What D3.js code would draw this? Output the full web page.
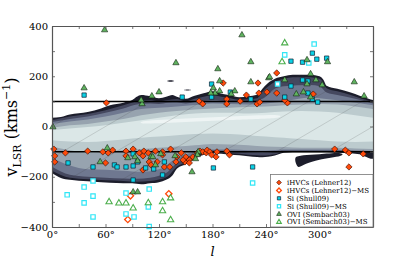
<!DOCTYPE html>
<meta charset="utf-8">
<script src="https://d3js.org/d3.v7.min.js"></script>
<style>
body { margin: 0; background: #fff; }
text { font-family: "DejaVu Serif", serif; }
</style>
<div id="chart"></div>
<script>
// HI emission bands in the (l, v_LSR) plane, outermost first: [l, v_low, v_high]
var band0 = [[0,-185,35],[10,-205,38],[20,-212,48],[40,-218,58],[55,-222,72],[65,-224,85],[80,-226,95],[90,-226,105],[95,-228,118],[100,-230,125],[110,-226,120],[120,-222,112],[128,-212,118],[135,-195,125],[140,-168,118],[150,-150,110],[160,-128,122],[170,-112,132],[180,-106,140],[190,-108,130],[200,-112,124],[210,-114,116],[220,-118,120],[230,-121,126],[236,-122,150],[242,-120,172],[250,-115,190],[260,-104,200],[270,-102,206],[290,-102,206],[300,-102,200],[304,-102,188],[308,-102,162],[320,-104,150],[335,-106,135],[345,-110,122],[355,-114,110],[360,-116,105]];
var band1 = [[0,-176,25],[20,-204,40],[40,-210,50],[60,-214,65],[80,-217,85],[95,-220,100],[110,-217,105],[120,-211,100],[130,-198,105],[140,-160,108],[150,-142,100],[160,-120,110],[170,-107,118],[180,-102,125],[190,-104,118],[200,-106,112],[210,-108,106],[220,-112,108],[230,-114,112],[236,-115,138],[242,-114,158],[250,-110,178],[260,-100,190],[270,-99,196],[290,-99,196],[300,-99,190],[304,-99,176],[308,-99,152],[320,-100,140],[335,-102,125],[345,-105,113],[360,-110,98]];
var band2 = [[0,-160,18],[20,-192,30],[40,-200,40],[60,-204,55],[80,-207,72],[95,-208,88],[110,-204,92],[120,-196,90],[130,-180,95],[140,-145,96],[150,-128,92],[160,-110,98],[170,-100,102],[180,-96,104],[200,-98,100],[220,-102,98],[236,-104,110],[250,-100,150],[260,-96,160],[290,-96,165],[300,-96,160],[308,-96,135],[320,-96,125],[340,-98,110],[360,-102,92]];
var band3 = [[0,-125,10],[20,-155,20],[40,-170,28],[60,-172,40],[80,-176,55],[100,-180,70],[120,-170,75],[140,-125,80],[160,-100,86],[180,-92,92],[200,-92,90],[220,-95,88],[240,-96,92],[260,-92,100],[290,-92,115],[310,-92,108],[330,-94,100],[360,-98,85]];
var band4 = [[0,-80,-5],[20,-95,5],[40,-105,10],[60,-100,20],[80,-95,30],[100,-90,45],[120,-85,55],[140,-80,62],[160,-75,68],[180,-70,72],[200,-72,75],[220,-75,78],[240,-80,80],[260,-82,85],[280,-85,88],[300,-85,90],[320,-85,88],[340,-88,80],[360,-90,70]];
var band5 = [[0,-55,-15],[20,-60,-8],[40,-62,-2],[60,-58,5],[80,-52,15],[100,-45,25],[120,-40,35],[140,-35,45],[160,-30,52],[180,-28,55],[200,-30,55],[220,-35,52],[240,-40,55],[260,-45,60],[280,-50,62],[300,-55,60],[320,-60,55],[340,-62,45],[360,-60,35]];

// separate dark HI clumps: [l, v] outlines
var tongue = [[273,-125],[282,-114],[300,-110],[323,-106],[323,-117],[300,-132],[285,-148],[276,-160]];
var edgeClump = [[345,-104],[360,-104],[360,-128],[352,-120]];
var blobA = [[129,181],[133,184],[137,181],[133,178]];
var blobB = [[148,145],[152,147],[156,145],[152,143]];
// bright streak inside the core
var streak = [[105,22],[150,32],[200,40],[250,46],[250,34],[200,26],[150,18],[105,12]];

// faint reference lines (start longitude of each)
var diagStarts = [-120, -60, 0, 60, 120, 180, 240, 300];

// absorbers [l, v_LSR]
var ihvc = [[61,94],[165,101],[169,90],[192,173],[196,109],[196,90],[211,101],[218,125],[231,173],[232,133],[241,137],[230,90],[233,97],[252,213],[252,133],[264,94],[261,105],[293,129],
  [2,-90],[15,-105],[3,-117],[3,-141],[40,-98],[57,-101],[63,-105],[60,-145],[68,-94],[83,-98],[83,-117],[91,-90],[98,-105],[102,-117],[103,-98],[108,-105],[109,-141],[116,-98],[124,-101],[124,-113],[133,-90],[140,-121],[145,-105],[150,-121],[154,-133],[158,-121],[163,-105],[166,-98],[169,-101],[173,-105],[174,-94],[177,-101],[179,-113],[184,-121],[185,-101],[196,-98],[199,-113],
  [102,-173],[111,-153],[118,-141],[126,-161],[132,-161],[139,-141],[149,-141],[154,-145],[147,-133],
  [317,-90],[329,-94],[333,-105],[349,-109],[333,-161]];
var ihvcMS = [[88,-276],[85,-370],[131,-268]];
var si = [[36,125],[146,117],[179,169],[179,117],[200,137],[223,109],[268,260],[292,292],[297,268],[308,272],[281,256],[281,185],[287,181],[268,161],[287,133],[292,109],[261,117],[298,97],
  [18,-145],[46,-161],[70,-153],[73,-161],[83,-161],[91,-157],[91,-109],[96,-141],[105,-165],[91,-213],[114,-169],[124,-193],[126,-141],[181,-165],[225,-161]];
var siMS = [[294,328],[261,285],[288,253],[253,169],[17,-272],[36,-241],[46,-217],[36,-304],[46,-277],[46,-360],[83,-265],[83,-348],[92,-360],[109,-249],[108,-320],[109,-398],[225,-225]];
var ovi = [[36,153],[59,384],[213,364],[139,253],[223,257],[186,229],[243,193],[188,181],[181,153],[183,133],[188,141],[120,137],[112,121],[101,90],[100,105],[205,141],[201,129],[223,177],[178,133],
  [309,257],[286,265],[244,197],[261,185],[290,209],[296,185],[286,169],[303,165],[339,177],[350,121],[274,129],[282,137],[290,117],[1,-2],
  [62,-86],[54,-141],[85,-125],[93,-121],[96,-137],[111,-121],[116,-153],[122,-109],[138,-117],[157,-181],[164,-101],[163,-113],[161,-129],[113,-121],[91,-261],[96,-261]];
var oviMS = [[261,332],[258,257],[64,-300],[75,-305],[83,-305],[91,-325],[108,-304],[124,-300],[124,-336],[133,-285],[133,-372]];

var xTicks = d3.range(0, 361, 30);
var yTicks = d3.range(-400, 401, 100);
var legendLabels = ["iHVCs (Lehner12)", "iHVCs (Lehner12)\u2212MS", "Si (Shull09)", "Si (Shull09)\u2212MS", "OVI (Sembach03)", "OVI (Sembach03)\u2212MS"];

// ---------------------------------------------------------------
var W = 415, H = 260;
var margin = {top: 26, right: 42, bottom: 33, left: 52};

var svg = d3.select("#chart").append("svg")
  .attr("width", W).attr("height", H);

var x = d3.scaleLinear().domain([0, 360]).range([margin.left, W - margin.right]);
var y = d3.scaleLinear().domain([-400, 400]).range([H - margin.bottom, margin.top]);

var defs = svg.append("defs");
defs.append("clipPath").attr("id", "plotclip")
  .append("rect")
    .attr("x", x(0)).attr("y", y(400))
    .attr("width", x(360) - x(0)).attr("height", y(-400) - y(400));

var area = d3.area()
  .x(function(d) { return x(d[0]); })
  .y0(function(d) { return y(d[1]); })
  .y1(function(d) { return y(d[2]); })
  .curve(d3.curveMonotoneX);
var outline = d3.line()
  .x(function(d) { return x(d[0]); })
  .y(function(d) { return y(d[1]); })
  .curve(d3.curveCardinalClosed);

defs.append("clipPath").attr("id", "hiclip")
  .append("path").attr("d", area(band0));

// bone colormap steps, dark edge to bright core
var bandColors = ["#1c1d2b", "#45485f", "#6f7890", "#97a3af", "#bccbce", "#dbe7e7"];
var bg = svg.append("g").attr("clip-path", "url(#plotclip)");
bg.selectAll("path.band")
  .data([band0, band1, band2, band3, band4, band5])
  .enter().append("path")
    .attr("class", "band")
    .attr("d", area)
    .attr("fill", function(d, i) { return bandColors[i]; });

bg.selectAll("path.clump")
  .data([tongue, edgeClump, blobA, blobB])
  .enter().append("path")
    .attr("class", "clump")
    .attr("d", outline)
    .attr("fill", bandColors[0]);

bg.append("path")
  .attr("d", outline(streak))
  .attr("fill", "#eef4f4");

// faint diagonal lines across the emission
bg.append("g").attr("clip-path", "url(#hiclip)")
  .selectAll("line")
  .data(diagStarts)
  .enter().append("line")
    .attr("x1", function(d) { return x(d); })
    .attr("y1", y(-250))
    .attr("x2", function(d) { return x(d + 240); })
    .attr("y2", y(250))
    .attr("stroke", "#444")
    .attr("stroke-opacity", 0.3)
    .attr("stroke-width", 0.6);

// |v| = 100 km/s lines
svg.selectAll("line.cut")
  .data([100, -100])
  .enter().append("line")
    .attr("class", "cut")
    .attr("x1", x(0)).attr("x2", x(360))
    .attr("y1", function(d) { return y(d); })
    .attr("y2", function(d) { return y(d); })
    .attr("stroke", "#000")
    .attr("stroke-width", 1.5);

// marker styles
var cOrange = "#ff4a0a", cCyan = "#0ad2e6", cCyanOpen = "#30e6f6", cGreen = "#5fb35f", cGreenOpen = "#4cae4c";
var series = [
  {data: ihvc,   type: "diamond",  fill: cOrange, stroke: "#3a0d00", sw: 0.6},
  {data: ihvcMS, type: "diamond",  fill: "#fff",  stroke: cOrange,   sw: 1.3},
  {data: si,     type: "square",   fill: cCyan,   stroke: "#102030", sw: 0.7},
  {data: siMS,   type: "square",   fill: "#fff",  stroke: cCyanOpen, sw: 1.2},
  {data: ovi,    type: "triangle", fill: cGreen,  stroke: "#112211", sw: 0.6},
  {data: oviMS,  type: "triangle", fill: "#fff",  stroke: cGreenOpen, sw: 1.1}
];

function symbolPath(type, scale) {
  if (type === "diamond") return d3.symbol().type(d3.symbolSquare).size(20 * scale * scale)();
  if (type === "square") return d3.symbol().type(d3.symbolSquare).size(19 * scale * scale)();
  return d3.symbol().type(d3.symbolTriangle).size(17 * scale * scale)();
}

series.forEach(function(s) {
  svg.append("g")
    .selectAll("path")
    .data(s.data)
    .enter().append("path")
      .attr("d", symbolPath(s.type, 1))
      .attr("transform", function(d) {
        return "translate(" + x(d[0]) + "," + y(d[1]) + ")" + (s.type === "diamond" ? " rotate(45)" : "");
      })
      .attr("fill", s.fill)
      .attr("stroke", s.stroke)
      .attr("stroke-width", s.sw);
});

// axes, ticks pointing inward on all four sides
var tickFont = "10px";
var gx = svg.append("g")
  .attr("transform", "translate(0," + y(-400) + ")")
  .call(d3.axisBottom(x).tickValues(xTicks).tickSizeInner(-3).tickSizeOuter(0).tickPadding(4)
    .tickFormat(function(d) { return (d % 60 === 0 && d < 360) ? d + "\u00b0" : ""; }));
var gxt = svg.append("g")
  .attr("transform", "translate(0," + y(400) + ")")
  .call(d3.axisTop(x).tickValues(xTicks).tickSizeInner(-3).tickSizeOuter(0).tickFormat(""));
var gy = svg.append("g")
  .attr("transform", "translate(" + x(0) + ",0)")
  .call(d3.axisLeft(y).tickValues(yTicks).tickSizeInner(-3).tickSizeOuter(0).tickPadding(4)
    .tickFormat(function(d) { return d % 200 === 0 ? d3.format("d")(d).replace("-", "\u2212") : ""; }));
var gyr = svg.append("g")
  .attr("transform", "translate(" + x(360) + ",0)")
  .call(d3.axisRight(y).tickValues(yTicks).tickSizeInner(-3).tickSizeOuter(0).tickFormat(""));

[gx, gxt, gy, gyr].forEach(function(g) {
  g.select(".domain").attr("stroke", "#555").attr("stroke-width", 1.2);
  g.selectAll(".tick line").attr("stroke", "#555").attr("stroke-width", 0.8);
  g.selectAll(".tick text").attr("fill", "#000")
    .style("font-family", "DejaVu Serif, serif").style("font-size", tickFont);
});

// axis titles
svg.append("text")
  .attr("x", (x(0) + x(360)) / 2)
  .attr("y", H - 4)
  .attr("text-anchor", "middle")
  .style("font-size", "13px")
  .style("font-style", "italic")
  .text("l");

var ylab = svg.append("text")
  .attr("transform", "translate(17,127) rotate(-90)")
  .attr("text-anchor", "middle")
  .style("font-size", "16px");
ylab.append("tspan").text("v");
ylab.append("tspan").attr("dy", 3.5).style("font-size", "11px").text("LSR");
ylab.append("tspan").attr("dy", -3.5).text(" (kms");
ylab.append("tspan").attr("dy", -7).style("font-size", "11px").text("\u22121");
ylab.append("tspan").attr("dy", 7).text(")");

// legend
var lg = svg.append("g");
lg.append("rect")
  .attr("x", 270.5).attr("y", 174.5)
  .attr("width", x(360) - 270.5).attr("height", y(-400) - 174.5)
  .attr("fill", "#fff")
  .attr("stroke", "#777")
  .attr("stroke-width", 0.8);

var rows = lg.selectAll("g.row")
  .data(legendLabels)
  .enter().append("g")
    .attr("class", "row")
    .attr("transform", function(d, i) { return "translate(279," + (182.5 + i * 7.9) + ")"; });
rows.append("path")
  .attr("d", function(d, i) { return symbolPath(series[i].type, 0.75); })
  .attr("transform", function(d, i) { return series[i].type === "diamond" ? "rotate(45)" : null; })
  .attr("fill", function(d, i) { return series[i].fill; })
  .attr("stroke", function(d, i) { return series[i].stroke; })
  .attr("stroke-width", function(d, i) { return series[i].sw; });
rows.append("text")
  .attr("x", 8)
  .attr("dy", "0.35em")
  .style("font-size", "7px")
  .text(function(d) { return d; });
</script>
